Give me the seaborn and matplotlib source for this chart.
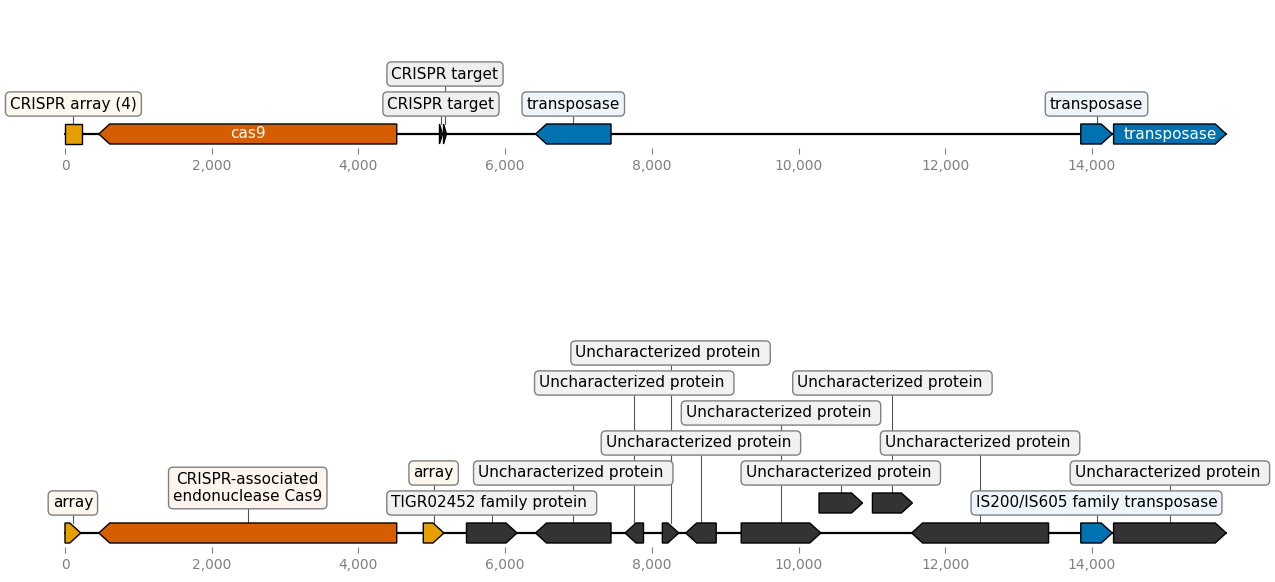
import matplotlib
matplotlib.use("Agg")
import matplotlib.pyplot as plt
import matplotlib.colors as mcolors
from matplotlib.patches import Polygon
from matplotlib.ticker import FuncFormatter
import seaborn as sns

# ---- data: top record ----
top_start = [0, 460, 5105, 5160, 6414, 13847, 14294]
top_end = [230, 4522, 5145, 5200, 7443, 14276, 15830]
top_strand = [0, -1, 1, 1, -1, 1, 1]
top_label = ["CRISPR array (4)", "cas9", "CRISPR target", "CRISPR target",
             "transposase", "transposase", "transposase"]
top_color = ["#E69F00", "#D55E00", "#1a1a1a", "#1a1a1a", "#0072B2", "#0072B2", "#0072B2"]
top_row = [0, 0, 0, 0, 0, 0, 0]
top_label_row = [1, 0, 1, 2, 1, 1, 0]   # 0 = label written inside the feature

# ---- data: bottom record ----
bot_start = [0, 460, 4884, 5473, 6414, 7634, 8143, 8461, 9218, 10279,
             11007, 11541, 13847, 14294]
bot_end = [215, 4522, 5166, 6162, 7443, 7886, 8367, 8877, 10303, 10872,
           11552, 13408, 14276, 15830]
bot_strand = [1, -1, 1, 1, -1, -1, 1, -1, 1, 1, 1, -1, 1, 1]
bot_label = ["array", "CRISPR-associated\nendonuclease Cas9", "array",
             "TIGR02452 family protein "] + ["Uncharacterized protein "] * 8 + \
            ["IS200/IS605 family transposase", "Uncharacterized protein "]
bot_color = ["#E69F00", "#D55E00", "#E69F00"] + ["#333333"] * 9 + ["#0072B2", "#333333"]
bot_row = [0, 0, 0, 0, 0, 0, 0, 0, 0, 1, 1, 0, 0, 0]
bot_label_row = [1, 1.5, 2, 1, 2, 5, 6, 3, 4, 2, 5, 3, 1, 2]

seq_length = 15830
xticks = list(range(0, 16000, 2000))

sns.set_theme(style="white")
plt.rcParams["font.family"] = ["DejaVu Sans"]

fig = plt.figure(figsize=(12.75, 5.82), dpi=100)
W, H = 1275, 582
PX_PER_BP = 1027 / 14000
X0 = 65
LEVEL_PX = 30
HALF = 10 / LEVEL_PX
HEAD_BP = 150


def lighten(c, f=0.07):
    r, g, b = mcolors.to_rgb(c)
    return (1 - f + f * r, 1 - f + f * g, 1 - f + f * b)


def make_axes(line_px, bottom_px, top_px):
    ax = fig.add_axes([40 / W, 1 - bottom_px / H, 1210 / W, (bottom_px - top_px) / H])
    ax.set_xlim((40 - X0) / PX_PER_BP, (1250 - X0) / PX_PER_BP)
    ax.set_ylim(-(bottom_px - line_px) / LEVEL_PX, (line_px - top_px) / LEVEL_PX)
    return ax


def draw_record(ax, starts, ends, strands, labels, colors, rows, label_rows):
    sns.lineplot(x=[0, seq_length], y=[0, 0], color="black", lw=1.6, ax=ax, zorder=1)
    for s, e, st, lab, col, row, lrow in zip(starts, ends, strands, labels,
                                            colors, rows, label_rows):
        head = min(HEAD_BP, e - s)
        y0, y1 = row - HALF, row + HALF
        if st == 1:
            pts = [(s, y0), (e - head, y0), (e, row), (e - head, y1), (s, y1)]
        elif st == -1:
            pts = [(e, y0), (s + head, y0), (s, row), (s + head, y1), (e, y1)]
        else:
            pts = [(s, y0), (e, y0), (e, y1), (s, y1)]
        ax.add_patch(Polygon(pts, closed=True, fc=col, ec="black", lw=1, zorder=3))
        xc = (s + e) / 2
        if lrow == 0:
            ax.text(xc, row, lab, ha="center", va="center", color="white",
                    fontsize=11, zorder=4)
        else:
            ax.plot([xc, xc], [row + HALF, lrow], color="#555555", lw=0.8, zorder=2)
            ax.text(xc, lrow, lab, ha="center", va="center", fontsize=11,
                    color="black", zorder=5, linespacing=1.2,
                    bbox=dict(boxstyle="round,pad=0.3", fc=lighten(col),
                              ec="#808080", lw=1))
    ax.set_xticks(xticks)
    ax.xaxis.set_major_formatter(FuncFormatter(lambda v, p: f"{int(v):,}"))
    ax.set_yticks([])
    ax.tick_params(axis="x", bottom=True, length=4, width=0.8, pad=4,
                   colors="#808080", labelsize=10)
    sns.despine(ax=ax, left=True, bottom=True)
    ax.set_xlabel("")
    ax.set_ylabel("")


ax_top = make_axes(134, 148, 40)
draw_record(ax_top, top_start, top_end, top_strand, top_label, top_color,
            top_row, top_label_row)

ax_bot = make_axes(533, 547, 335)
draw_record(ax_bot, bot_start, bot_end, bot_strand, bot_label, bot_color,
            bot_row, bot_label_row)

fig.savefig("out.png", dpi=100)
